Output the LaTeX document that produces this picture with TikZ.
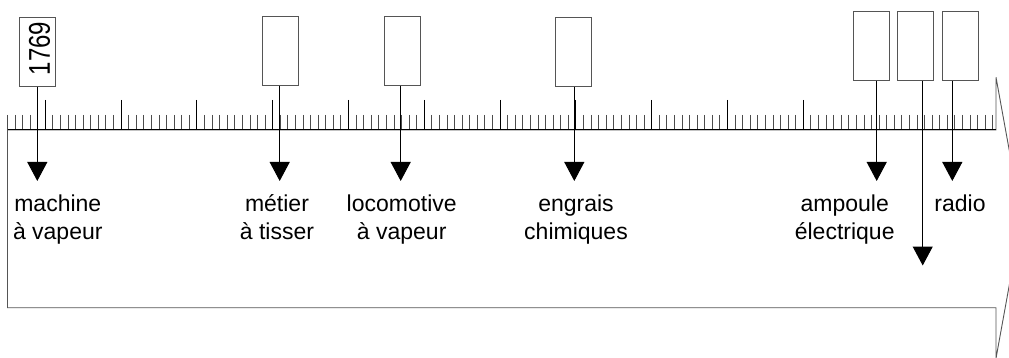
\documentclass[tikz,border=0pt]{standalone}
\usepackage{fontspec}
\setmainfont{Liberation Sans}
\usetikzlibrary{arrows.meta}
\definecolor{edge}{HTML}{555555}
\begin{document}
\begin{tikzpicture}[x=1pt,y=1pt,
  box/.style={draw=edge, line width=0.9pt, minimum width=36pt, minimum height=69pt, inner sep=0pt},
  lbl/.style={font=\fontsize{23}{28}\selectfont, align=center, anchor=north, inner sep=0pt},
  arr/.style={line width=1pt, -{Triangle[width=20pt,length=19pt]}},
  minor/.style={line width=0.9pt, draw=black!70},
  major/.style={line width=1pt, draw=black},
]
\useasboundingbox (0,0) rectangle (1009,-358);
% big arrow
\draw[draw=edge, line width=0.9pt] (7.5,-130) -- (996,-130) -- (996,-77.3) -- (1021.5,-217.8) -- (996,-358.3) -- (996,-307.7) -- (7.5,-307.7) -- cycle;
% ticks
\foreach \i in {0,...,130} {\draw[minor] ({7.4+7.58*\i},-115) -- ({7.4+7.58*\i},-130);}
\foreach \k in {0,...,10} {\draw[major] ({45.3+75.8*\k},-100) -- ({45.3+75.8*\k},-130);}
\draw[major] (7.5,-130) -- (996,-130);
% boxes
\node[box] (b1) at (37.8,-51.6) {};
\node[inner sep=0pt] (y1) at (39.5,-48.4) {\rotatebox{90}{\scalebox{1}[1.25]{\fontsize{24}{24}\selectfont 1769}}};
\node[box] (b2) at (280.7,-50.8) {};
\node[box] (b3) at (402.3,-50.8) {};
\node[box] (b4) at (573.8,-51.6) {};
\node[box] (b5) at (871.3,-45.8) {};
\node[box] (b6) at (915.3,-45.8) {};
\node[box] (b7) at (960.3,-45.8) {};
% arrow tips
\coordinate (t1) at (37.3,-181);
\coordinate (t2) at (279.7,-181);
\coordinate (t3) at (400.7,-181);
\coordinate (t4) at (574.3,-181);
\coordinate (t5) at (876.7,-181);
\coordinate (t6) at (922.7,-265.5);
\coordinate (t7) at (952.3,-181);
\foreach \n in {1,...,7} {\draw[arr] (b\n.south -| t\n) -- (t\n);}
% labels
\node[lbl] (l1) at (57.8,-194.5) {machine\\à vapeur};
\node[lbl] (l2) at (277,-194.5) {métier\\à tisser};
\node[lbl] (l3) at (401.7,-194.5) {locomotive\\à vapeur};
\node[lbl] (l4) at (576,-194.5) {engrais\\chimiques};
\node[lbl] (l5) at (844.7,-194.5) {ampoule\\électrique};
\node[lbl] (l6) at (960,-194.5) {radio};
\end{tikzpicture}
\end{document}
